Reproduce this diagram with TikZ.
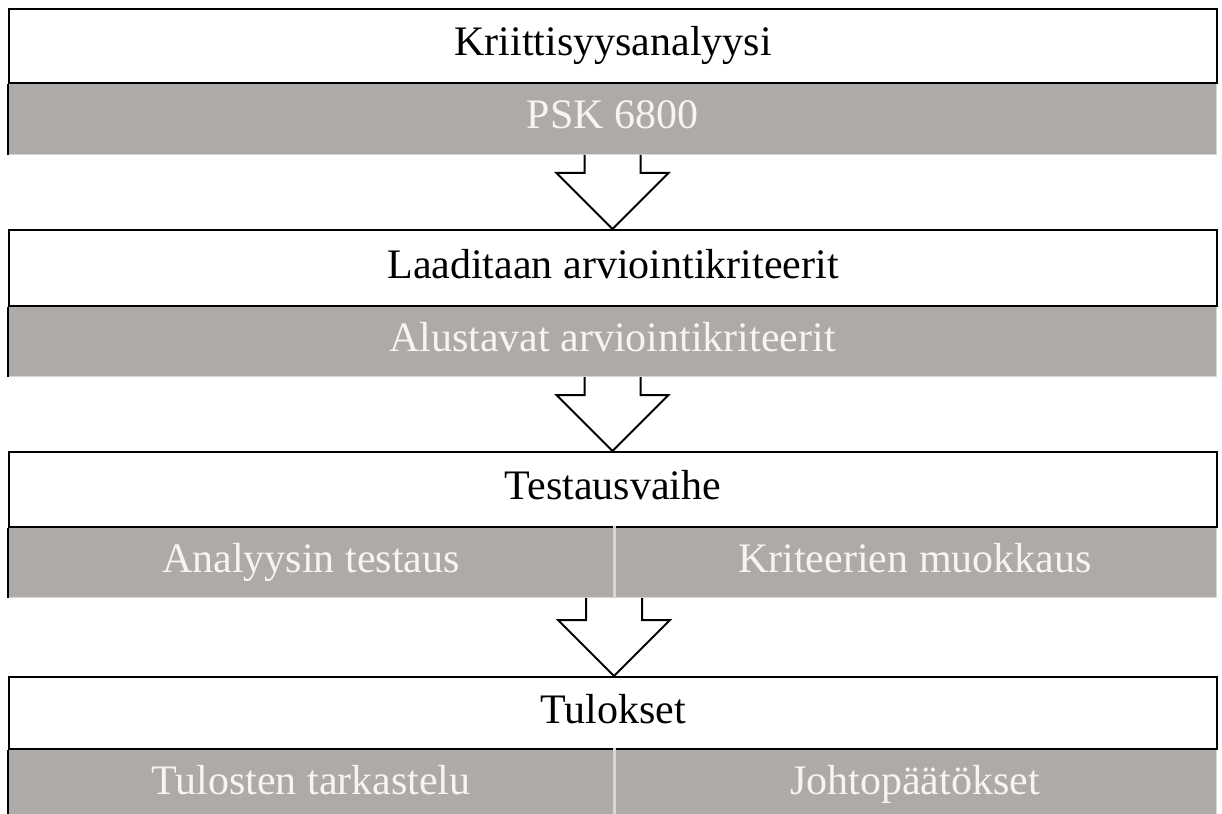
\documentclass[tikz,border=0pt]{standalone}
\usepackage{fontspec}
\setmainfont{Liberation Serif}
\usetikzlibrary{calc}
\definecolor{bandgray}{HTML}{AEAAA7}
\definecolor{bandtext}{HTML}{F7F5F4}
\definecolor{bandedge}{HTML}{D8D5D3}
\tikzset{
  titlebox/.style={draw=black, line width=2pt, fill=white, minimum width=1208pt,
    inner sep=0pt, anchor=north west, font=\fontsize{42}{50}\selectfont,
    text height=29pt, text depth=9pt},
  bandbox/.style={fill=bandgray, draw=bandedge, line width=1pt, inner sep=0pt,
    anchor=north west, text=bandtext, font=\fontsize{42}{50}\selectfont,
    text height=29pt, text depth=9pt},
  blockarrow/.style={draw=black, line width=2pt, fill=white, line join=miter},
  leftedge/.style={draw=black, line width=2pt},
  divider/.style={draw=bandedge, line width=3pt},
}
\begin{document}
\begin{tikzpicture}[x=1pt,y=-1pt]
\useasboundingbox (0,0) rectangle (1222,813);
\clip (0,0) rectangle (1222,813);

% stage 1: criticality analysis
\node[bandbox, minimum width=1208pt, minimum height=72pt] (b1) at (8,82) {PSK 6800};
\node[titlebox, minimum height=74pt] (t1) at (8,8) {Kriittisyysanalyysi};
\draw[leftedge] (t1.south west) -- (b1.south west);

% stage 2: drafting the criteria
\node[bandbox, minimum width=1208pt, minimum height=71pt] (b2) at (8,305) {Alustavat arviointikriteerit};
\node[titlebox, minimum height=76pt] (t2) at (8,229) {Laaditaan arviointikriteerit};
\draw[leftedge] (t2.south west) -- (b2.south west);

% stage 3: testing
\node[bandbox, minimum width=605pt, minimum height=71pt] (b3a) at (8,526) {Analyysin testaus};
\node[bandbox, minimum width=603pt, minimum height=71pt] (b3b) at (613,526) {Kriteerien muokkaus};
\node[titlebox, minimum height=75pt] (t3) at (8,451) {Testausvaihe};
\draw[divider] (b3a.north east) -- (b3a.south east);
\draw[leftedge] (t3.south west) -- (b3a.south west);

% stage 4: results
\node[bandbox, minimum width=605pt, minimum height=72pt] (b4a) at (8,748) {Tulosten tarkastelu};
\node[bandbox, minimum width=603pt, minimum height=72pt] (b4b) at (613,748) {Johtopäätökset};
\node[titlebox, minimum height=72pt] (t4) at (8,676) {Tulokset};
\draw[divider] (b4a.north east) -- (b4a.south east);
\draw[leftedge] (t4.south west) -- (b4a.south west);

% hollow block arrows from each band down to the next stage
\foreach \src/\dst in {b1.south/t2.north, b2.south/t3.north, b3a.south east/t4.north}{
  \draw[blockarrow] let \p1=(\src), \p2=(\dst) in
    (\x1-28pt,\y1) -- (\x1-28pt,\y2+56pt) -- (\x1-56pt,\y2+56pt) -- (\x1,\y2)
    -- (\x1+56pt,\y2+56pt) -- (\x1+28pt,\y2+56pt) -- (\x1+28pt,\y1);
}
\end{tikzpicture}
\end{document}
